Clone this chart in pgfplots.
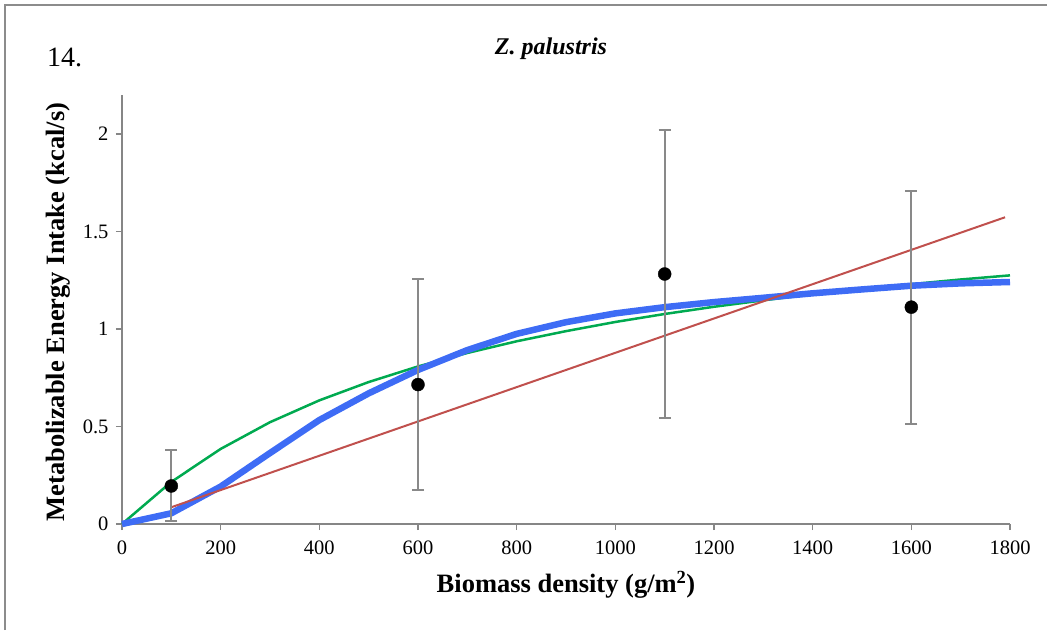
\documentclass[border=0pt]{standalone}
\usepackage{fontspec}
\setmainfont{Liberation Serif}
\usepackage{pgfplots}
\pgfplotsset{compat=1.18}

\definecolor{fitblue}{RGB}{62,108,245}
\definecolor{fitgreen}{RGB}{0,170,80}
\definecolor{fitred}{RGB}{192,80,77}
\definecolor{axisgray}{RGB}{134,134,134}
\definecolor{errgray}{RGB}{137,137,137}
\definecolor{framegray}{RGB}{140,140,140}

\begin{document}
\begin{tikzpicture}[x=1pt,y=1pt]
\useasboundingbox (0,0) rectangle (1047,630);
% panel frame
\draw[framegray, line width=2pt] (5,0) -- (5,625) -- (1047,625);

\begin{axis}[
  at={(122pt,106pt)}, anchor=south west,
  scale only axis, width=888pt, height=429pt,
  xmin=0, xmax=1800, ymin=0, ymax=2.2,
  axis x line*=bottom, axis y line*=left,
  axis line style={axisgray, line width=1.5pt},
  xtick={0,200,...,1800}, ytick={0,0.5,1,1.5,2},
  tick style={axisgray, line width=1.5pt},
  tick align=outside, major tick length=6pt,
  /pgf/number format/assume math mode=true,
  /pgf/number format/1000 sep={},
  tick label style={font=\fontsize{20.5}{24}\selectfont, black},
  xticklabel style={yshift=-7pt},
  yticklabel style={xshift=-4pt},
  clip=false,
]
% Holling type II fit
\addplot[fitgreen, line width=2.5pt, line join=round] coordinates {
  (0,0) (100,0.216) (200,0.385) (300,0.522) (400,0.634) (500,0.728)
  (600,0.808) (700,0.877) (800,0.937) (900,0.989) (1000,1.036)
  (1100,1.077) (1200,1.114) (1300,1.147) (1400,1.178) (1500,1.205)
  (1600,1.230) (1700,1.254) (1800,1.275)
};
% Holling type III fit
\addplot[fitblue, line width=6.5pt, line join=round] coordinates {
  (0,0) (100,0.055) (200,0.192) (300,0.364) (400,0.533) (500,0.670)
  (600,0.790) (700,0.892) (800,0.975) (900,1.035) (1000,1.080)
  (1100,1.112) (1200,1.138) (1300,1.160) (1400,1.183) (1500,1.203)
  (1600,1.222) (1700,1.234) (1800,1.241)
};
% linear fit
\addplot[fitred, line width=2pt] coordinates {(100,0.086) (1790,1.573)};
% observed means with error bars
\addplot[only marks, mark=*, mark size=6.5pt, black,
  error bars/.cd, y dir=both, y explicit,
  error bar style={errgray, line width=2pt},
  error mark options={rotate=90, errgray, mark size=6pt, line width=2pt}]
  coordinates {
  (100,0.195) +- (0,0.182)
  (600,0.715) +- (0,0.540)
  (1100,1.282) +- (0,0.738)
  (1600,1.112) +- (0,0.597)
};
\end{axis}

\node[font=\bfseries\fontsize{26.5}{30}\selectfont] at (566,45) {Biomass density (g/m\textsuperscript{2})};
\node[rotate=90, font=\bfseries\fontsize{26.5}{30}\selectfont] at (58,318) {Metabolizable Energy Intake (kcal/s)};
\node[anchor=base, font=\bfseries\itshape\fontsize{24}{28}\selectfont] at (551,575) {Z. palustris};
\node[anchor=base west, inner sep=0pt, font=\fontsize{28}{32}\selectfont] at (47,563) {14.};
\end{tikzpicture}
\end{document}
